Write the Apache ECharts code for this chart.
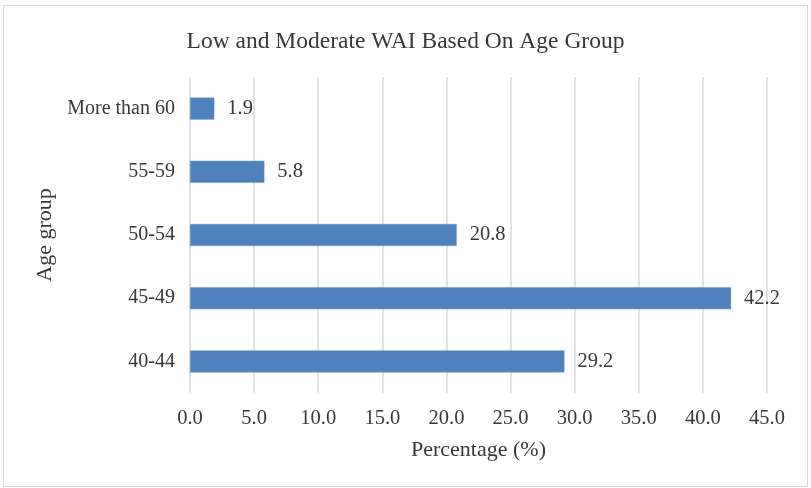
<!DOCTYPE html>
<html>
<head>
<meta charset="utf-8">
<script src="https://cdn.jsdelivr.net/npm/echarts@6/dist/echarts.min.js"></script>
<style>
  html, body { margin: 0; padding: 0; background: #fff; }
  #chart { width: 811px; height: 488px; }
  #frame { position: absolute; left: 3px; top: 5px; width: 803px; height: 480px; border: 1px solid #d9d9d9; pointer-events: none; }
</style>
</head>
<body>
<div id="chart"></div>
<div id="frame"></div>
<script>
// Age groups, bottom to top on the category axis
const ageGroups = ['40-44', '45-49', '50-54', '55-59', 'More than 60'];
// Share of workers with low and moderate WAI in each age group (%)
const percentages = [29.2, 42.2, 20.8, 5.8, 1.9];

const serif = '"Liberation Serif", "Times New Roman", serif';
const textColor = '#383838';

const chart = echarts.init(document.getElementById('chart'));
chart.setOption({
  animation: false,
  title: {
    text: 'Low and Moderate WAI Based On Age Group',
    left: 'center',
    top: 25,
    textStyle: { fontFamily: serif, fontSize: 23.5, fontWeight: 'normal', color: textColor }
  },
  grid: { left: 190, right: 44, top: 77, bottom: 95, containLabel: false },
  xAxis: {
    type: 'value',
    min: 0,
    max: 45,
    interval: 5,
    name: 'Percentage (%)',
    nameLocation: 'middle',
    nameGap: 46,
    nameTextStyle: { fontFamily: serif, fontSize: 22, color: textColor },
    axisLine: { show: false },
    axisTick: { show: false },
    axisLabel: {
      fontFamily: serif, fontSize: 20.5, color: textColor, margin: 15,
      formatter: v => v.toFixed(1)
    },
    splitLine: { show: true, lineStyle: { color: '#d9d9d9', width: 1.5 } }
  },
  yAxis: {
    type: 'category',
    data: ageGroups,
    name: 'Age group',
    nameLocation: 'middle',
    nameGap: 127,
    nameRotate: 90,
    nameTextStyle: { fontFamily: serif, fontSize: 22, color: textColor },
    axisLine: { show: false },
    axisTick: { show: false },
    axisLabel: { fontFamily: serif, fontSize: 20, color: textColor, margin: 15 }
  },
  series: [{
    type: 'bar',
    data: percentages,
    barWidth: 22,
    itemStyle: { color: '#4f81bd', borderColor: '#6b95c9', borderWidth: 0.5 },
    label: {
      show: true,
      position: 'right',
      distance: 13,
      fontFamily: serif,
      fontSize: 20.5,
      color: textColor,
      formatter: p => p.value.toFixed(1)
    }
  }]
});
</script>
</body>
</html>
